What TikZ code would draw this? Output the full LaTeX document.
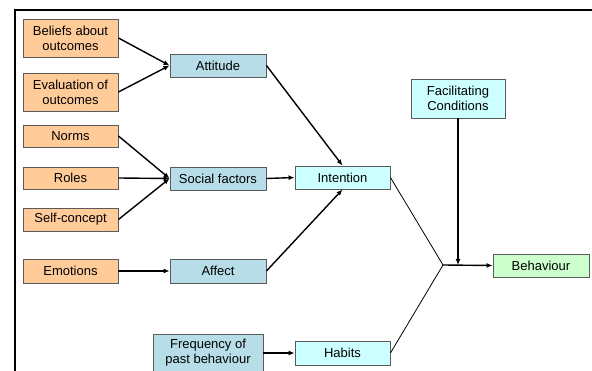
\documentclass[tikz,border=0pt]{standalone}
\usepackage{fontspec}
\setmainfont{Liberation Sans}
\usetikzlibrary{arrows.meta}
\definecolor{orangebox}{HTML}{FFCC99}
\definecolor{tealbox}{HTML}{B7DEE8}
\definecolor{cyanbox}{HTML}{CCFFFF}
\definecolor{greenbox}{HTML}{CCFFCC}
\definecolor{boxline}{HTML}{5A5A5A}
\tikzset{
  box/.style={draw=boxline, line width=0.9pt, inner sep=1pt, align=center,
    font=\fontsize{13}{15}\selectfont, text=black},
  obox/.style={box, fill=orangebox, minimum width=95pt},
  tbox/.style={box, fill=tealbox, minimum width=96pt},
  cbox/.style={box, fill=cyanbox, minimum width=95pt},
  gbox/.style={box, fill=greenbox, minimum width=96pt},
  arr/.style={-{Latex[length=6pt,width=5pt]}, line width=1.4pt},
  thin/.style={line width=0.8pt},
}
\begin{document}
\begin{tikzpicture}[x=1pt,y=-1pt]
\useasboundingbox (0,0) rectangle (592,371);
\begin{scope}
\clip (0,0) rectangle (592,371);
\draw[line width=2pt] (15,380) -- (15,10.5) -- (600,10.5);
% left column
\node[obox, minimum height=38pt] (bel) at (70.5,38) {Beliefs about\\outcomes};
\node[obox, minimum height=38pt] (eva) at (70.5,92) {Evaluation of\\outcomes};
\node[obox, minimum height=22pt] (nor) at (70.5,136) {Norms};
\node[obox, minimum height=22pt] (rol) at (70.5,178) {Roles};
\node[obox, minimum height=23pt] (sel) at (70.5,219.5) {Self-concept};
\node[obox, minimum height=24pt] (emo) at (70.5,271) {Emotions};
% middle column
\node[tbox, minimum height=23pt] (att) at (218,65.5) {Attitude};
\node[tbox, minimum height=23pt] (soc) at (218,178.5) {Social factors};
\node[tbox, minimum height=24pt] (aff) at (218,271) {Affect};
\node[tbox, minimum width=110pt, minimum height=38pt] (fre) at (208,353) {Frequency of\\past behaviour};
% right
\node[cbox, minimum height=23pt] (int) at (342.5,177.5) {Intention};
\node[cbox, minimum height=24pt] (hab) at (342.5,353) {Habits};
\node[cbox, minimum width=94pt, minimum height=39pt] (fac) at (458,98.5) {Facilitating\\Conditions};
\node[gbox, minimum height=23pt] (beh) at (541,265.5) {Behaviour};
\coordinate (j) at (443,265);
% arrows
\draw[arr] (bel.east) -- (att.west);
\draw[arr] (eva.east) -- (att.west);
\draw[arr] (nor.east) -- (soc.west);
\draw[arr] (rol.east) -- (soc.west);
\draw[arr] (sel.east) -- (soc.west);
\draw[arr] (emo.east) -- (aff.west);
\draw[arr] (att.east) -- (int.north);
\draw[arr] (soc.east) -- (int.west);
\draw[arr] (aff.east) -- (int.south);
\draw[arr] (fre.east) -- (hab.west);
\draw[thin] (int.east) -- (j);
\draw[thin] (hab.east) -- (j);
\draw[arr] (j) -- (beh.west);
\draw[arr] (fac.south) -- (fac.south |- j);
\end{scope}
\end{tikzpicture}
\end{document}
